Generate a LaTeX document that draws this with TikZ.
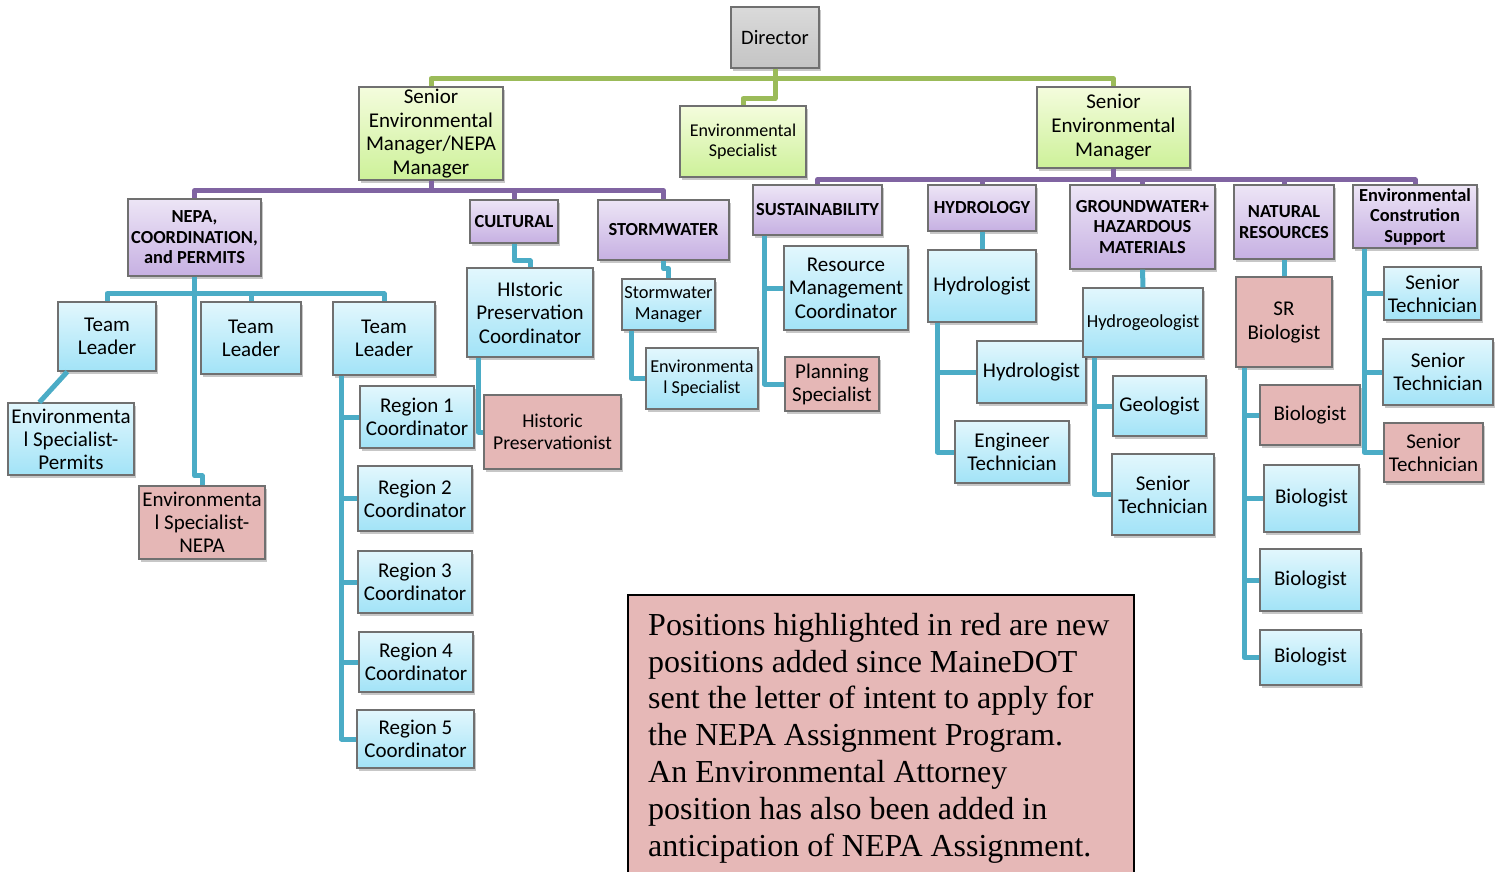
\documentclass[tikz,border=0pt]{standalone}
\usepackage{fontspec}
\setmainfont{Carlito}
\newfontfamily\notefont{Liberation Serif}
\usetikzlibrary{shadows,calc}
\definecolor{bordc}{HTML}{707070}
\definecolor{bluetop}{HTML}{E2F7FD}
\definecolor{bluebot}{HTML}{A2E3F7}
\definecolor{purtop}{HTML}{EDE5F6}
\definecolor{purbot}{HTML}{C6B0E2}
\definecolor{grntop}{HTML}{F4FCDD}
\definecolor{grnbot}{HTML}{CDF199}
\definecolor{redfill}{HTML}{E5B7B6}
\definecolor{greytop}{HTML}{DADADA}
\definecolor{greybot}{HTML}{C4C4C4}
\definecolor{lnblue}{HTML}{4BACC6}
\definecolor{lnpur}{HTML}{8064A2}
\definecolor{lngrn}{HTML}{9BBB59}
\definecolor{notefill}{HTML}{E6B8B7}
\tikzset{
  basebox/.style={rectangle, draw=bordc, line width=1.3pt, inner sep=1pt, align=center,
    drop shadow={shadow xshift=2pt, shadow yshift=-3pt, fill=black, opacity=0.22},
    font=\fontsize{21}{23}\selectfont},
  bluebox/.style={basebox, top color=bluetop, bottom color=bluebot},
  redbox/.style={basebox, fill=redfill},
  purbox/.style={basebox, top color=purtop, bottom color=purbot, font=\bfseries\fontsize{18.4}{20.5}\selectfont},
  grnbox/.style={basebox, top color=grntop, bottom color=grnbot},
  greybox/.style={basebox, top color=greytop, bottom color=greybot},
  bl/.style={draw=lnblue, line width=5pt, line join=round},
  pl/.style={draw=lnpur, line width=5pt, line join=round},
  gl/.style={draw=lngrn, line width=5pt, line join=round},
  sz/.style 2 args={minimum width=#1, minimum height=#2},
}
\begin{document}
\begin{tikzpicture}[x=1pt,y=-1pt]
\useasboundingbox (0,0) rectangle (1502,871);
\clip (0,0) rectangle (1502,871);
% top level
\node[greybox, sz={88}{61}, font=\fontsize{20.5}{23}\selectfont] (dir) at (775,37.5) {Director};
\node[grnbox, sz={144}{93}, font=\fontsize{21}{23.7}\selectfont] (semL) at (431,133.5) {Senior\\Environmental\\Manager/NEPA\\Manager};
\node[grnbox, sz={126}{71}, font=\fontsize{18}{20}\selectfont] (envsp) at (743,141.5) {Environmental\\Specialist};
\node[grnbox, sz={153}{81}, font=\fontsize{21}{24}\selectfont] (semR) at (1113.5,127.5) {Senior\\Environmental\\Manager};
% purple headers
\node[purbox, sz={133}{77}] (nepa) at (194.5,237.5) {NEPA,\\COORDINATION,\\and PERMITS};
\node[purbox, sz={88}{43}] (cult) at (514,221.5) {CULTURAL};
\node[purbox, sz={131}{60}] (sw) at (663.5,230) {STORMWATER};
\node[purbox, sz={129}{50}, inner sep=0pt] (sus) at (817.5,210) {SUSTAINABILITY};
\node[purbox, sz={108}{46}] (hyd) at (982,208) {HYDROLOGY};
\node[purbox, sz={145}{84}] (gw) at (1142.5,227) {GROUNDWATER+\\HAZARDOUS\\MATERIALS};
\node[purbox, sz={100}{74}] (nat) at (1284,222) {NATURAL\\RESOURCES};
\node[purbox, sz={124}{63}] (ecs) at (1415,216.5) {Environmental\\Constrution\\Support};
% NEPA subtree
\node[bluebox, sz={98}{69}] (tl1) at (107,336.5) {Team\\Leader};
\node[bluebox, sz={100}{72}] (tl2) at (251,338) {Team\\Leader};
\node[bluebox, sz={102}{73}] (tl3) at (384,338.5) {Team\\Leader};
\node[bluebox, sz={126}{72}] (esp) at (71,439) {Environmenta\\l Specialist-\\Permits};
\node[redbox, sz={126}{73}] (esn) at (202,522.5) {Environmenta\\l Specialist-\\NEPA};
\node[bluebox, sz={114}{62}] (r1) at (417,417) {Region 1\\Coordinator};
\node[bluebox, sz={114}{65}] (r2) at (415,498.5) {Region 2\\Coordinator};
\node[bluebox, sz={114}{62}] (r3) at (415,582) {Region 3\\Coordinator};
\node[bluebox, sz={114}{60}] (r4) at (416,662) {Region 4\\Coordinator};
\node[bluebox, sz={117}{58}] (r5) at (415.5,739) {Region 5\\Coordinator};
% cultural
\node[bluebox, sz={126}{89}, font=\fontsize{21}{23.5}\selectfont] (hpc) at (530,312.5) {HIstoric\\Preservation\\Coordinator};
\node[redbox, sz={137}{74}, font=\fontsize{19.6}{22}\selectfont] (hp) at (552.5,432) {Historic\\Preservationist};
% stormwater
\node[bluebox, sz={93}{51}, font=\fontsize{18.4}{21}\selectfont] (swm) at (668.5,304.5) {Stormwater\\Manager};
\node[bluebox, sz={112}{61}, font=\fontsize{18.2}{21}\selectfont] (es2) at (702,378.5) {Environmenta\\l Specialist};
% sustainability
\node[bluebox, sz={124}{84}, font=\fontsize{21}{23.5}\selectfont] (rmc) at (846,288) {Resource\\Management\\Coordinator};
\node[redbox, sz={94}{54}] (plan) at (832,384) {Planning\\Specialist};
% hydrology
\node[bluebox, sz={108}{72}] (h1) at (982,286) {Hydrologist};
\node[bluebox, sz={109}{62}] (h2) at (1031.5,372) {Hydrologist};
\node[bluebox, sz={114}{62}] (eng) at (1012,452) {Engineer\\Technician};
% groundwater
\node[bluebox, sz={120}{69}, font=\fontsize{18.4}{21}\selectfont] (hg) at (1143,322.5) {Hydrogeologist};
\node[bluebox, sz={93}{60}] (geo) at (1159.5,406) {Geologist};
\node[bluebox, sz={102}{81}] (gst) at (1163,494.5) {Senior\\Technician};
% natural resources
\node[redbox, sz={96}{90}, font=\fontsize{21}{24}\selectfont] (srb) at (1284,322) {SR\\Biologist};
\node[redbox, sz={100}{60}] (bio1) at (1310,415) {Biologist};
\node[bluebox, sz={95}{67}] (bio2) at (1311.5,498.5) {Biologist};
\node[bluebox, sz={101}{62}] (bio3) at (1310.5,580) {Biologist};
\node[bluebox, sz={101}{55}] (bio4) at (1310.5,657.5) {Biologist};
% env construction support
\node[bluebox, sz={97}{53}] (st1) at (1432.5,293.5) {Senior\\Technician};
\node[bluebox, sz={110}{66}] (st2) at (1438,372) {Senior\\Technician};
\node[redbox, sz={99}{59}] (st3) at (1433.5,452.5) {Senior\\Technician};

% green
\draw[gl] (dir.south) -- ++(0,10) -| (semL.north);
\draw[gl] (dir.south) -- ++(0,10) -| (semR.north);
\draw[gl] (dir.south) -- ++(0,30) -| (envsp.north);
% purple
\draw[pl] (semL.south) -- ++(0,10) -| (nepa.north);
\draw[pl] (semL.south) -- ++(0,10) -| (cult.north);
\draw[pl] (semL.south) -- ++(0,10) -| (sw.north);
\draw[pl] (semR.south) -- ++(0,11) -| (sus.north);
\draw[pl] (semR.south) -- ++(0,11) -| (hyd.north);
\draw[pl] (semR.south) -- ++(0,11) -| (gw.north);
\draw[pl] (semR.south) -- ++(0,11) -| (nat.north);
\draw[pl] (semR.south) -- ++(0,11) -| (ecs.north);
% blue: NEPA
\draw[bl] (nepa.south) -- ++(0,17) -| (tl1.north);
\draw[bl] (nepa.south) -- ++(0,17) -| (tl2.north);
\draw[bl] (nepa.south) -- ++(0,17) -| (tl3.north);
\draw[bl] (nepa.south) -- ++(0,199) -| (esn.north);
\draw[bl] ($(tl1.south west)+(10,0)$) -- ($(esp.north west)+(32,0)$);
\coordinate (tl3b) at ($(tl3.south west)+(9,0)$);
\foreach \r in {r1,r2,r3,r4,r5} { \draw[bl] (tl3b) |- (\r.west); }
% cultural
\draw[bl] (cult.south) -- ++(0,17) -| (hpc.north);
\draw[bl] ($(hpc.south west)+(12,0)$) |- (hp.west);
% stormwater
\draw[bl] (sw.south) -- ++(0,8) -| (swm.north);
\draw[bl] ($(swm.south west)+(10,0)$) |- (es2.west);
% sustainability
\draw[bl] ($(sus.south west)+(12,0)$) |- (rmc.west);
\draw[bl] ($(sus.south west)+(12,0)$) |- (plan.west);
% hydrology
\draw[bl] (hyd.south) -- (h1.north);
\draw[bl] ($(h1.south west)+(10,0)$) |- (h2.west);
\draw[bl] ($(h1.south west)+(10,0)$) |- (eng.west);
% groundwater
\draw[bl] (gw.south) -- (hg.north);
\draw[bl] ($(hg.south west)+(12,0)$) |- (geo.west);
\draw[bl] ($(hg.south west)+(12,0)$) |- (gst.west);
% natural resources
\draw[bl] (nat.south) -- (srb.north);
\foreach \b in {bio1,bio2,bio3,bio4} { \draw[bl] ($(srb.south west)+(9,0)$) |- (\b.west); }
% env construction support
\foreach \s in {st1,st2,st3} { \draw[bl] ($(ecs.south west)+(12,0)$) |- (\s.west); }

% note
\node[draw=black, line width=1.5pt, fill=notefill, anchor=north west, minimum width=506, minimum height=290, inner sep=0pt] (notebox) at (627,594) {};
\node[anchor=north west, align=left, inner sep=0pt, font=\notefont\fontsize{32}{36.8}\selectfont] (notetext) at (648,612.9)
{Positions highlighted in red are new\\positions added since MaineDOT\\sent the letter of intent to apply for\\the NEPA Assignment Program.\\An Environmental Attorney\\position has also been added in\\anticipation of NEPA Assignment.};
\end{tikzpicture}
\end{document}
